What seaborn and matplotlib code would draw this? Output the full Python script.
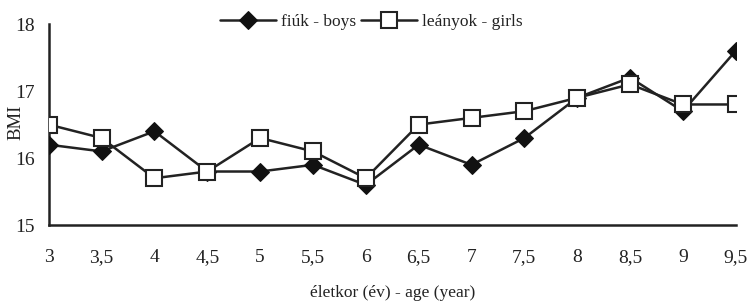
import matplotlib
matplotlib.use("Agg")
import matplotlib.pyplot as plt
import seaborn as sns
import pandas as pd

ages = [3, 3.5, 4, 4.5, 5, 5.5, 6, 6.5, 7, 7.5, 8, 8.5, 9, 9.5]
age_labels = ["3", "3,5", "4", "4,5", "5", "5,5", "6", "6,5", "7", "7,5", "8", "8,5", "9", "9,5"]
boys = [16.2, 16.1, 16.4, 15.8, 15.8, 15.9, 15.6, 16.2, 15.9, 16.3, 16.9, 17.2, 16.7, 17.6]
girls = [16.5, 16.3, 15.7, 15.8, 16.3, 16.1, 15.7, 16.5, 16.6, 16.7, 16.9, 17.1, 16.8, 16.8]
boys_label = "fiúk - boys"
girls_label = "leányok - girls"
yticks = [15, 16, 17, 18]

sns.set_theme(style="white")
plt.rcParams['font.family'] = ['Liberation Serif', 'DejaVu Serif']

fig = plt.figure(figsize=(7.5, 3.08), dpi=100)
ax = fig.add_axes([0.065, 0.269, 0.916, 0.653])

df_b = pd.DataFrame({"age": ages, "bmi": boys})
df_g = pd.DataFrame({"age": ages, "bmi": girls})
lc = "#222222"
sns.lineplot(data=df_b, x="age", y="bmi", ax=ax, color=lc, lw=1.8,
             marker="D", markersize=9.5, markerfacecolor="#111111",
             markeredgecolor="#111111", label=boys_label, zorder=3)
sns.lineplot(data=df_g, x="age", y="bmi", ax=ax, color=lc, lw=1.8,
             marker="s", markersize=11, markerfacecolor="white",
             markeredgecolor=lc, markeredgewidth=1.5, label=girls_label, zorder=4)

ax.set_xlim(3, 9.5)
ax.set_ylim(15, 18)
ax.set_xticks(ages)
ax.set_xticklabels(age_labels)
ax.set_yticks(yticks)
ax.tick_params(axis="both", direction="out", length=6, width=1.8, color=lc,
               labelsize=14, labelcolor="#222222")
ax.tick_params(axis="x", pad=11)
ax.tick_params(axis="y", pad=4)
for s in ["top", "right"]:
    ax.spines[s].set_visible(False)
for s in ["left", "bottom"]:
    ax.spines[s].set_color(lc)
    ax.spines[s].set_linewidth(1.8)
ax.set_xlabel("életkor (év) - age (year)", fontsize=12.5, color="#222222", labelpad=14)
ax.set_ylabel("BMI", fontsize=13.5, color="#222222")
ax.yaxis.set_label_coords(-0.035, 0.51)

ax.legend(loc="upper center", bbox_to_anchor=(0.47, 1.13), ncol=2, frameon=False,
          fontsize=12.5, handlelength=3.2, columnspacing=0.3, handletextpad=0.3,
          labelcolor="#222222")

fig.savefig("out.png", dpi=100)
